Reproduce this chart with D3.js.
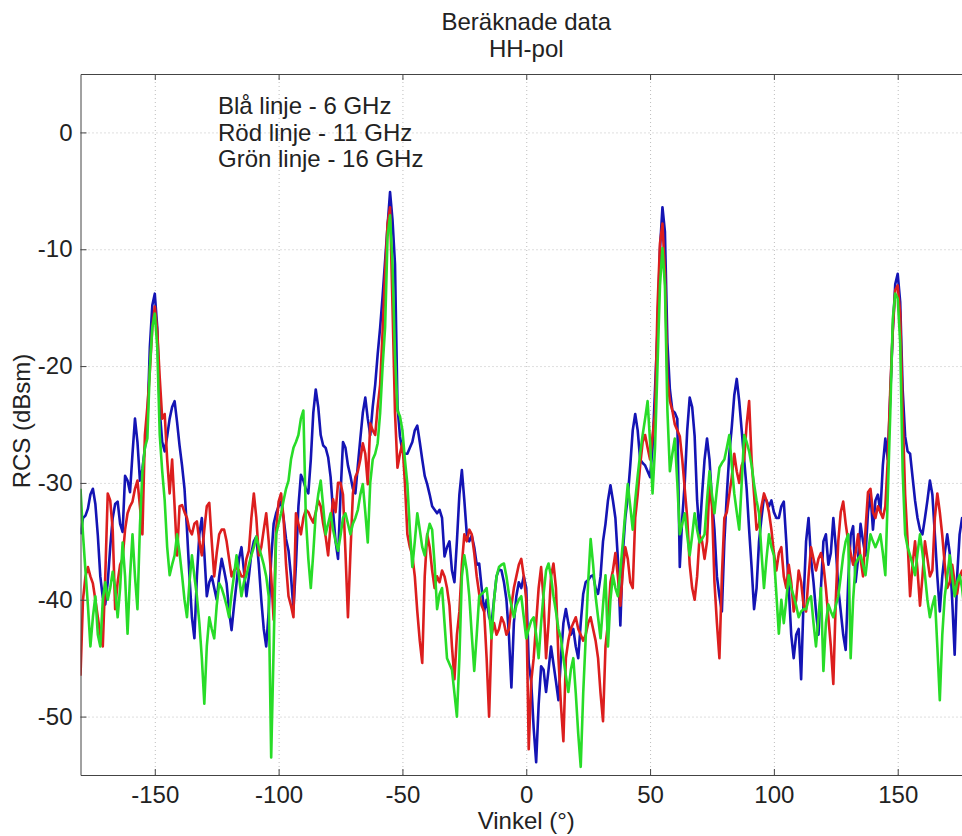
<!DOCTYPE html>
<html>
<head>
<meta charset="utf-8">
<script src="https://d3js.org/d3.v7.min.js"></script>
<style>
  body { margin: 0; background: #fff; }
  svg text { font-family: "Liberation Sans", Arial, sans-serif; fill: #222; }
  .grid line { stroke: #bdbdbd; stroke-dasharray: 1,3; }
  .grid .domain { display: none; }
  .axis .domain, .axis line { stroke: #444; }
</style>
</head>
<body>
<svg width="962" height="836"></svg>
<script>
// angle grid, one sample per degree (-180 .. 180)
var angles = d3.range(-180, 181, 1);

// 6 GHz
var blue = [
  -34.4,-33.0,-32.8,-32.2,-31.0,-30.5,-31.8,-34.5,-38.0,-39.8,
  -40.4,-38.5,-35.5,-33.0,-31.8,-31.6,-33.5,-34.2,-29.4,-29.8,
  -30.8,-27.5,-24.5,-26.5,-29.8,-28.8,-27.0,-25.0,-18.4,-14.8,
  -13.8,-16.7,-23.8,-26.5,-27.3,-26.0,-24.5,-23.5,-23.0,-24.8,
  -26.8,-28.5,-30.5,-34.0,-38.0,-41.5,-43.3,-38.0,-34.4,-33.0,
  -36.0,-39.7,-38.5,-38.0,-39.0,-40.0,-38.0,-36.5,-37.5,-38.6,
  -41.0,-42.6,-40.5,-38.6,-36.5,-35.5,-37.5,-39.7,-38.0,-36.0,
  -35.0,-34.6,-37.0,-40.0,-42.5,-44.0,-41.0,-36.5,-33.5,-32.6,
  -32.0,-31.6,-33.0,-34.8,-35.8,-38.0,-40.8,-37.0,-32.0,-29.3,
  -29.8,-30.5,-30.9,-28.0,-24.0,-22.0,-23.5,-25.9,-26.8,-27.0,
  -27.8,-29.5,-32.5,-35.0,-36.5,-31.0,-26.5,-27.0,-28.5,-29.4,
  -30.5,-30.9,-28.5,-26.2,-24.0,-22.7,-24.5,-25.9,-23.5,-21.6,
  -19.0,-16.7,-14.0,-11.0,-8.0,-5.1,-7.5,-11.3,-23.4,-26.0,
  -27.3,-27.5,-27.5,-27.0,-26.5,-25.5,-25.1,-26.5,-28.0,-29.4,
  -30.1,-31.0,-32.0,-32.3,-32.6,-32.3,-33.0,-36.3,-35.5,-35.0,
  -37.5,-38.5,-35.0,-31.0,-28.9,-31.5,-34.4,-35.0,-34.5,-35.5,
  -37.0,-36.9,-39.0,-41.0,-40.0,-41.5,-42.0,-40.0,-38.0,-37.4,
  -37.5,-38.5,-40.0,-43.0,-47.5,-42.0,-39.7,-38.5,-39.0,-38.0,
  -39.0,-45.4,-47.0,-51.0,-53.9,-49.0,-45.7,-46.0,-47.9,-46.0,
  -44.0,-45.5,-47.0,-48.6,-45.0,-42.0,-40.8,-42.0,-43.0,-42.5,
  -44.0,-45.0,-42.0,-39.5,-38.5,-38.3,-38.0,-37.9,-39.0,-39.5,
  -38.0,-35.0,-33.5,-31.5,-30.2,-31.5,-33.0,-36.5,-42.2,-36.0,
  -33.0,-31.2,-28.5,-25.5,-24.1,-25.5,-28.0,-28.3,-28.5,-29.0,
  -29.5,-27.0,-22.0,-17.0,-10.0,-6.4,-8.5,-18.0,-22.0,-23.8,
  -24.0,-24.5,-37.2,-33.0,-30.0,-25.5,-22.7,-23.5,-26.0,-31.5,
  -34.4,-31.0,-28.0,-26.2,-28.0,-31.5,-34.0,-38.0,-39.7,-41.0,
  -35.0,-31.0,-27.5,-25.2,-22.5,-21.1,-23.0,-25.5,-28.0,-30.5,
  -34.0,-37.2,-40.8,-39.0,-35.0,-33.0,-31.2,-31.5,-32.0,-31.5,
  -32.5,-33.0,-33.0,-32.0,-31.6,-35.0,-39.0,-43.0,-45.0,-43.0,
  -42.5,-46.8,-40.0,-35.0,-33.0,-36.5,-38.5,-41.0,-43.0,-39.0,
  -35.0,-34.4,-37.0,-36.0,-33.0,-35.5,-39.0,-41.0,-43.0,-44.3,
  -38.5,-34.5,-33.7,-38.5,-36.5,-33.5,-35.0,-36.2,-32.5,-30.9,
  -34.0,-31.5,-31.0,-32.5,-28.5,-26.2,-28.0,-22.5,-17.0,-13.0,
  -12.1,-14.5,-22.0,-26.0,-27.3,-27.5,-29.5,-31.5,-33.0,-34.0,
  -34.4,-33.0,-31.5,-29.8,-31.0,-34.4,-38.0,-41.0,-38.0,-36.0,
  -34.4,-36.0,-40.0,-44.7,-38.0,-34.4,-33.0,-34.5,-33.5,-33.0,
  -34.0
];

// 11 GHz
var red = [
  -46.5,-40.0,-38.0,-37.2,-38.0,-38.6,-40.0,-41.5,-43.0,-44.0,
  -38.0,-30.9,-31.5,-34.0,-40.8,-38.5,-37.0,-36.5,-34.0,-32.6,
  -32.0,-31.6,-30.5,-29.8,-32.0,-34.4,-25.9,-23.5,-20.5,-16.7,
  -14.9,-17.0,-21.0,-24.5,-24.1,-28.0,-30.9,-28.0,-32.0,-36.2,
  -32.0,-31.9,-32.5,-33.0,-34.0,-34.4,-33.5,-33.3,-35.0,-36.2,
  -34.0,-32.0,-31.7,-35.0,-38.0,-36.0,-34.4,-34.0,-34.0,-35.0,
  -36.5,-38.0,-37.5,-37.2,-37.5,-38.0,-38.0,-36.5,-35.8,-33.0,
  -30.9,-33.0,-36.2,-35.5,-34.0,-32.6,-35.0,-38.0,-41.7,-34.0,
  -31.6,-30.9,-33.0,-37.0,-39.7,-40.5,-41.5,-32.6,-33.5,-34.4,
  -33.0,-32.3,-32.5,-33.0,-33.4,-32.5,-31.5,-32.0,-33.5,-34.6,
  -36.2,-33.5,-31.4,-32.5,-30.0,-30.0,-31.0,-36.0,-41.5,-36.0,
  -30.9,-29.5,-29.0,-28.0,-26.6,-27.5,-30.1,-24.9,-25.5,-25.9,
  -23.5,-21.6,-17.0,-12.0,-7.8,-6.4,-14.9,-24.0,-28.7,-27.5,
  -26.6,-30.0,-34.4,-35.5,-36.2,-38.0,-41.0,-43.5,-45.4,-38.0,
  -34.4,-35.5,-37.5,-39.0,-38.0,-38.5,-37.5,-38.0,-39.0,-40.5,
  -44.0,-46.8,-43.0,-41.0,-37.0,-34.4,-35.0,-34.0,-34.4,-36.0,
  -38.0,-39.5,-40.5,-41.0,-45.0,-50.0,-43.0,-42.0,-43.0,-42.5,
  -41.5,-42.0,-43.0,-42.5,-40.5,-39.0,-38.0,-37.0,-36.5,-38.0,
  -40.0,-52.8,-47.0,-45.0,-42.0,-39.0,-37.2,-40.0,-45.0,-42.0,
  -38.0,-36.9,-39.0,-45.0,-49.0,-52.1,-45.0,-43.5,-42.5,-42.0,
  -41.5,-42.5,-43.0,-43.5,-43.0,-42.0,-41.5,-42.5,-43.5,-45.0,
  -48.0,-50.4,-44.0,-42.0,-38.5,-37.5,-36.0,-38.0,-40.5,-37.5,
  -35.5,-36.5,-38.5,-39.0,-33.0,-31.0,-28.5,-26.5,-25.9,-27.0,
  -28.0,-26.0,-24.0,-15.0,-9.5,-7.8,-12.0,-21.0,-23.0,-23.8,
  -25.0,-25.5,-26.0,-28.0,-30.5,-33.0,-37.0,-39.0,-40.0,-38.0,
  -34.5,-35.0,-36.5,-35.0,-30.0,-32.0,-38.5,-42.0,-45.0,-38.0,
  -33.0,-32.5,-31.0,-29.5,-27.5,-29.0,-30.0,-28.5,-28.0,-25.0,
  -23.0,-28.0,-31.0,-34.0,-33.5,-32.0,-30.9,-31.5,-32.5,-34.0,
  -36.0,-37.5,-36.0,-35.5,-38.0,-39.0,-37.0,-38.5,-41.0,-40.0,
  -37.5,-38.5,-40.5,-41.0,-38.0,-35.5,-36.5,-37.5,-36.5,-36.0,
  -37.0,-39.0,-41.5,-44.0,-47.2,-40.0,-35.0,-32.5,-31.6,-33.5,
  -35.0,-36.0,-37.0,-36.0,-34.4,-36.5,-38.0,-34.0,-30.8,-30.5,
  -32.5,-33.0,-32.0,-32.5,-33.0,-32.0,-28.0,-22.0,-17.0,-13.5,
  -13.1,-15.5,-24.0,-31.0,-35.0,-39.7,-37.0,-35.0,-37.5,-40.5,
  -38.0,-35.0,-36.5,-38.0,-37.5,-33.0,-30.9,-32.5,-34.5,-37.0,
  -39.0,-38.5,-37.0,-38.5,-39.5,-38.0,-37.5,-39.0,-40.0,-38.5,
  -38.0
];

// 16 GHz
var green = [
  -30.5,-34.4,-37.5,-40.5,-44.0,-41.5,-39.7,-43.0,-44.0,-40.0,
  -38.5,-40.0,-39.0,-37.6,-39.0,-41.5,-39.0,-35.1,-38.0,-42.9,
  -38.0,-34.4,-38.0,-40.8,-33.7,-29.0,-27.0,-26.2,-20.2,-16.7,
  -15.5,-18.4,-25.9,-29.0,-31.5,-35.5,-37.9,-37.0,-36.2,-34.4,
  -36.0,-37.9,-40.0,-41.5,-38.5,-36.2,-38.0,-39.7,-42.0,-45.0,
  -48.9,-44.0,-41.5,-42.5,-43.3,-40.5,-38.6,-39.0,-39.7,-40.5,
  -41.5,-39.5,-37.9,-36.2,-38.0,-39.7,-38.5,-37.9,-37.0,-36.2,
  -35.5,-34.6,-35.5,-36.2,-37.0,-38.0,-39.7,-53.5,-44.0,-34.4,
  -33.5,-32.6,-31.5,-30.5,-29.8,-28.0,-27.0,-26.5,-25.9,-24.5,
  -23.8,-33.0,-36.5,-39.0,-36.0,-32.6,-31.0,-29.8,-32.0,-34.4,
  -33.5,-32.6,-34.0,-35.0,-35.8,-34.5,-33.0,-32.6,-33.5,-34.4,
  -33.5,-33.0,-32.3,-31.0,-30.1,-32.5,-35.1,-30.0,-28.0,-27.5,
  -26.6,-24.0,-20.0,-16.7,-8.9,-7.1,-11.3,-19.0,-23.8,-24.3,
  -25.5,-28.0,-30.1,-34.0,-37.2,-35.0,-32.6,-34.0,-35.5,-36.2,
  -34.5,-33.5,-34.0,-37.0,-40.8,-39.5,-39.0,-42.0,-45.0,-45.5,
  -46.0,-48.0,-50.0,-45.0,-38.0,-36.2,-37.5,-39.7,-43.0,-46.1,
  -43.0,-39.7,-39.5,-39.3,-39.0,-41.0,-43.3,-40.0,-38.0,-37.2,
  -37.0,-36.9,-38.0,-39.5,-40.5,-41.5,-40.5,-40.0,-39.7,-41.5,
  -43.3,-42.5,-41.8,-41.5,-43.0,-45.0,-42.0,-39.5,-37.5,-36.9,
  -38.0,-39.7,-41.0,-42.5,-43.3,-45.0,-46.5,-47.9,-46.0,-45.0,
  -48.0,-51.5,-54.3,-48.0,-43.3,-38.5,-34.8,-37.0,-39.7,-41.5,
  -43.3,-40.5,-37.9,-44.0,-40.0,-37.9,-39.0,-39.7,-37.5,-35.1,
  -32.5,-30.1,-32.0,-34.0,-31.5,-29.4,-27.5,-25.9,-24.5,-23.0,
  -26.5,-30.9,-27.0,-20.0,-13.1,-9.9,-13.1,-23.8,-29.0,-27.5,
  -26.2,-30.0,-34.4,-33.5,-32.6,-34.5,-36.2,-34.5,-32.6,-34.0,
  -35.1,-34.8,-34.4,-31.5,-29.0,-31.0,-32.6,-30.5,-28.7,-28.3,
  -28.0,-27.0,-25.9,-28.5,-30.9,-32.5,-34.0,-30.0,-25.9,-26.5,
  -27.3,-28.5,-30.1,-31.5,-32.6,-36.0,-39.0,-36.5,-34.4,-35.5,
  -36.2,-39.5,-42.9,-40.0,-42.0,-40.0,-37.9,-39.0,-39.7,-40.5,
  -41.5,-41.0,-40.8,-40.8,-40.0,-39.7,-42.0,-44.0,-41.5,-39.0,
  -46.1,-42.0,-40.4,-41.0,-41.5,-40.5,-39.7,-38.0,-36.2,-35.0,
  -34.4,-45.0,-40.0,-36.9,-36.5,-36.2,-37.0,-37.9,-36.0,-34.4,
  -35.0,-35.5,-35.0,-34.4,-36.0,-37.9,-31.0,-24.0,-16.0,-13.8,
  -14.2,-18.0,-29.0,-34.4,-35.5,-36.2,-37.0,-37.9,-36.0,-34.4,
  -36.0,-37.9,-40.0,-41.5,-40.5,-39.7,-44.0,-48.6,-43.0,-39.7,
  -38.0,-36.2,-38.0,-39.7,-38.5,-37.9,-39.0,-41.0,-40.0,-39.0,
  -40.0
];

var xTicks = [-150, -100, -50, 0, 50, 100, 150];
var yTicks = [0, -10, -20, -30, -40, -50];
var titleLines = ["Beräknade data", "HH-pol"];
var legendLines = ["Blå linje - 6 GHz", "Röd linje - 11 GHz", "Grön linje - 16 GHz"];
var seriesList = [
  {name: "6 GHz", values: blue, color: "#1414b4"},
  {name: "11 GHz", values: red, color: "#dc1e1e"},
  {name: "16 GHz", values: green, color: "#28dc28"}
];

var svg = d3.select("svg"),
    plotLeft = 80.5, plotRight = 972, plotTop = 74, plotBottom = 775,
    fontSize = 24;

// plain hyphen for negative numbers, as in the original figure
var fmt = function(d) { return String(d); };

var x = d3.scaleLinear().domain([-180, 180]).range([plotLeft, plotRight]);
var y = d3.scaleLinear().domain([-55, 5]).range([plotBottom, plotTop]);

// dotted grid
svg.append("g")
    .attr("class", "grid")
    .attr("transform", "translate(0," + plotBottom + ")")
    .call(d3.axisBottom(x).tickValues(xTicks).tickSize(-(plotBottom - plotTop)).tickFormat(""));
svg.append("g")
    .attr("class", "grid")
    .attr("transform", "translate(" + plotLeft + ",0)")
    .call(d3.axisLeft(y).tickValues(yTicks).tickSize(-(plotRight - plotLeft)).tickFormat(""));

// curves
svg.append("clipPath").attr("id", "plot")
  .append("rect")
    .attr("x", plotLeft).attr("y", plotTop)
    .attr("width", plotRight - plotLeft).attr("height", plotBottom - plotTop);

var line = d3.line()
    .x(function(d) { return x(d[0]); })
    .y(function(d) { return y(d[1]); });

svg.append("g")
    .attr("clip-path", "url(#plot)")
  .selectAll("path")
  .data(seriesList)
  .enter().append("path")
    .attr("fill", "none")
    .attr("stroke", function(d) { return d.color; })
    .attr("stroke-width", 2.6)
    .attr("stroke-linejoin", "round")
    .attr("d", function(d) { return line(angles.map(function(a, i) { return [a, d.values[i]]; })); });

// axes with inward ticks
svg.append("g")
    .attr("class", "axis")
    .attr("transform", "translate(0," + plotBottom + ")")
    .call(d3.axisBottom(x).tickValues(xTicks).tickFormat(fmt).tickSizeInner(-6).tickSizeOuter(0).tickPadding(11))
    .selectAll("text").attr("font-size", fontSize);
svg.append("g")
    .attr("class", "axis")
    .attr("transform", "translate(0," + plotTop + ")")
    .call(d3.axisTop(x).tickValues(xTicks).tickSizeInner(-6).tickSizeOuter(0).tickFormat(""));
svg.append("g")
    .attr("class", "axis")
    .attr("transform", "translate(" + plotLeft + ",0)")
    .call(d3.axisLeft(y).tickValues(yTicks).tickFormat(fmt).tickSizeInner(-6).tickSizeOuter(0).tickPadding(8))
    .selectAll("text").attr("font-size", fontSize);
svg.selectAll(".axis text").attr("fill", "#222").attr("font-family", null);

// titles and labels
svg.append("g").selectAll("text")
  .data(titleLines)
  .enter().append("text")
    .attr("x", (plotLeft + plotRight) / 2)
    .attr("y", function(d, i) { return 30 + i * 27; })
    .attr("text-anchor", "middle")
    .attr("font-size", fontSize)
    .text(function(d) { return d; });

svg.append("text")
    .attr("x", (plotLeft + plotRight) / 2)
    .attr("y", 829)
    .attr("text-anchor", "middle")
    .attr("font-size", fontSize)
    .text("Vinkel (°)");

svg.append("text")
    .attr("transform", "translate(30,421) rotate(-90)")
    .attr("text-anchor", "middle")
    .attr("font-size", fontSize)
    .text("RCS (dBsm)");

svg.append("g").selectAll("text")
  .data(legendLines)
  .enter().append("text")
    .attr("x", 218)
    .attr("y", function(d, i) { return 114 + i * 26.5; })
    .attr("font-size", fontSize)
    .text(function(d) { return d; });
</script>
</body>
</html>
